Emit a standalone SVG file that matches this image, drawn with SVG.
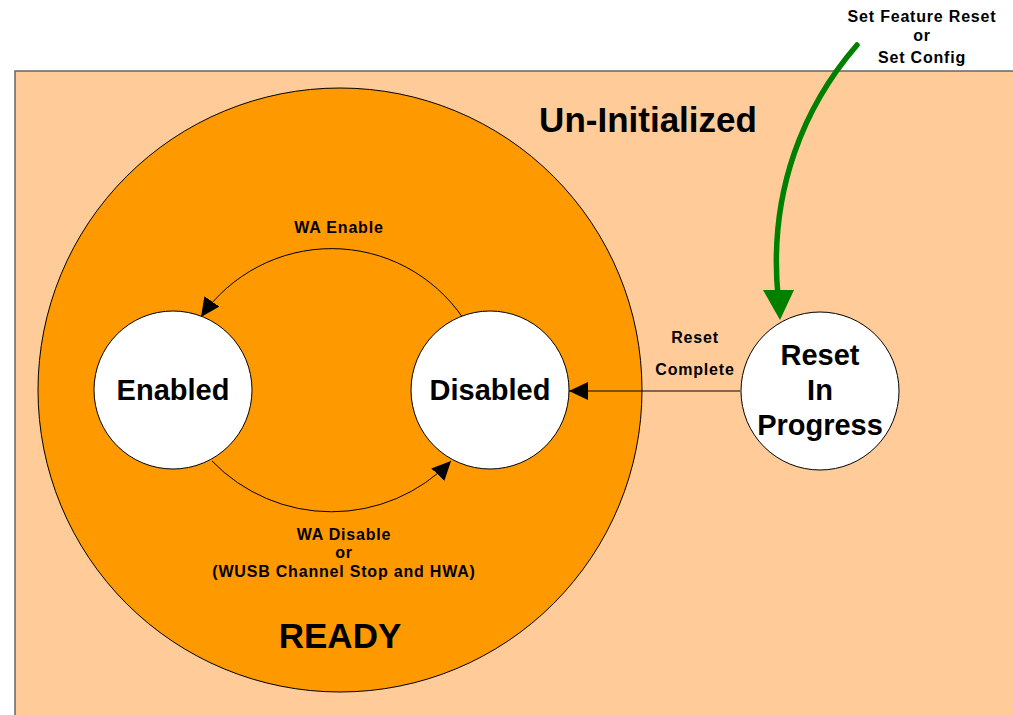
<svg xmlns="http://www.w3.org/2000/svg" width="1013" height="715" viewBox="0 0 1013 715">
<style>
text{font-family:"Liberation Sans",Arial,sans-serif;font-weight:bold;fill:#000;text-anchor:middle}
.state{fill:#fff;stroke:#000;stroke-width:1}
.big{font-size:29px}
.lbl{font-size:16px;letter-spacing:0.8px}
.conn{fill:none;stroke:#000;stroke-width:1}
</style>
<defs>
<marker id="ah" markerWidth="19" markerHeight="18" refX="19" refY="9" orient="auto" markerUnits="userSpaceOnUse"><path d="M0,0 L19,9 L0,18 Z" fill="#000"/></marker>
</defs>
<rect width="1013" height="715" fill="#fff"/>
<g id="uninit">
<rect x="15" y="71" width="1010" height="660" fill="#FFCC99" stroke="#666" stroke-width="1.5"/>
<text x="648" y="132" style="font-size:35px">Un-Initialized</text>
</g>
<g id="ready">
<circle cx="340" cy="390" r="302" fill="#FF9900" stroke="#000" stroke-width="1"/>
<text x="340" y="648" style="font-size:35px">READY</text>
</g>
<g id="connectors">
<path class="conn" d="M463,318 A159,159 0 0 0 201,317" marker-end="url(#ah)"/>
<path class="conn" d="M212,461 A166,166 0 0 0 451,461" marker-end="url(#ah)"/>
<path class="conn" d="M740,391 L569,391" marker-end="url(#ah)"/>
<path d="M857,45 C805,105 768,190 778,296" fill="none" stroke="#008000" stroke-width="5.5" stroke-linecap="round"/>
<path d="M763,290 L794,290 L780,320 Z" fill="#008000"/>
<text class="lbl" x="339" y="233">WA Enable</text>
<text class="lbl" x="344" y="540">WA Disable</text>
<text class="lbl" x="344" y="558">or</text>
<text class="lbl" x="344" y="577">(WUSB Channel Stop and HWA)</text>
<text class="lbl" x="695" y="343">Reset</text>
<text class="lbl" x="695" y="375">Complete</text>
<text class="lbl" x="922" y="22">Set Feature Reset</text>
<text class="lbl" x="922" y="41">or</text>
<text class="lbl" x="922" y="63">Set Config</text>
</g>
<g id="enabled">
<circle class="state" cx="173" cy="390" r="79"/>
<text class="big" x="173" y="400">Enabled</text>
</g>
<g id="disabled">
<circle class="state" cx="490" cy="390" r="79"/>
<text class="big" x="490" y="400">Disabled</text>
</g>
<g id="reset">
<circle class="state" cx="820" cy="391" r="79"/>
<text class="big" x="820" y="365">Reset</text>
<text class="big" x="820" y="400">In</text>
<text class="big" x="820" y="435">Progress</text>
</g>
</svg>
